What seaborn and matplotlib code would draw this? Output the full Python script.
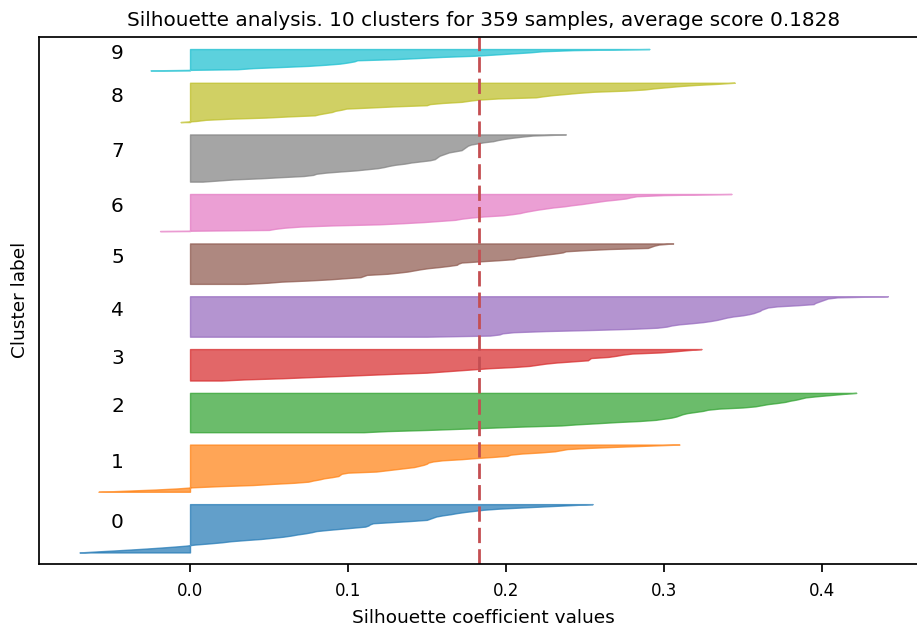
import numpy as np
import matplotlib
matplotlib.use("Agg")
import matplotlib.pyplot as plt
import seaborn as sns

# Silhouette coefficients per cluster (sorted from lowest to highest)
cluster_ids = [0, 1, 2, 3, 4, 5, 6, 7, 8, 9]

sil_c0 = [-0.070, -0.058, -0.045, -0.033, -0.022, -0.012, -0.003, 0.003, 0.012, 0.020,
          0.026, 0.035, 0.045, 0.052, 0.059, 0.064, 0.068, 0.073, 0.077, 0.080,
          0.087, 0.095, 0.103, 0.111, 0.113, 0.114, 0.116, 0.128, 0.140, 0.150,
          0.152, 0.154, 0.156, 0.160, 0.165, 0.169, 0.174, 0.180, 0.186, 0.196,
          0.210, 0.225, 0.240, 0.255]
sil_c1 = [-0.058, -0.040, -0.022, -0.008, 0.002, 0.019, 0.040, 0.052, 0.066, 0.075,
          0.078, 0.082, 0.085, 0.090, 0.094, 0.095, 0.096, 0.100, 0.118, 0.124,
          0.130, 0.136, 0.142, 0.145, 0.148, 0.150, 0.151, 0.154, 0.160, 0.172,
          0.181, 0.192, 0.201, 0.203, 0.210, 0.222, 0.231, 0.235, 0.239, 0.252,
          0.270, 0.290, 0.310]
sil_c2 = [0.110, 0.125, 0.150, 0.170, 0.190, 0.210, 0.235, 0.245, 0.258, 0.270,
          0.285, 0.295, 0.300, 0.305, 0.308, 0.310, 0.312, 0.315, 0.320, 0.325,
          0.328, 0.335, 0.350, 0.358, 0.362, 0.366, 0.372, 0.377, 0.380, 0.384,
          0.387, 0.390, 0.397, 0.405, 0.413, 0.422]
sil_c3 = [0.020, 0.035, 0.058, 0.076, 0.095, 0.112, 0.130, 0.150, 0.160, 0.170,
          0.180, 0.190, 0.205, 0.215, 0.220, 0.225, 0.232, 0.242, 0.252, 0.253,
          0.254, 0.265, 0.270, 0.274, 0.280, 0.298, 0.307, 0.315, 0.324]
sil_c4 = [0.150, 0.190, 0.196, 0.198, 0.205, 0.225, 0.255, 0.280, 0.296, 0.302,
          0.305, 0.310, 0.318, 0.325, 0.330, 0.334, 0.337, 0.340, 0.344, 0.350,
          0.354, 0.357, 0.359, 0.361, 0.362, 0.364, 0.366, 0.372, 0.385, 0.395,
          0.396, 0.398, 0.400, 0.402, 0.404, 0.410, 0.442]
sil_c5 = [0.035, 0.049, 0.058, 0.075, 0.088, 0.098, 0.108, 0.110, 0.112, 0.125,
          0.132, 0.138, 0.142, 0.146, 0.151, 0.158, 0.164, 0.169, 0.170, 0.172,
          0.183, 0.195, 0.205, 0.207, 0.214, 0.219, 0.225, 0.231, 0.236, 0.238,
          0.250, 0.265, 0.290, 0.292, 0.294, 0.297, 0.306]
sil_c6 = [-0.019, 0.050, 0.054, 0.060, 0.070, 0.090, 0.120, 0.135, 0.148, 0.158,
          0.168, 0.172, 0.178, 0.186, 0.198, 0.204, 0.209, 0.212, 0.216, 0.220,
          0.225, 0.230, 0.237, 0.242, 0.248, 0.253, 0.258, 0.263, 0.270, 0.276,
          0.279, 0.283, 0.300, 0.343]
sil_c7 = [0.008, 0.018, 0.028, 0.045, 0.058, 0.072, 0.078, 0.080, 0.086, 0.095,
          0.105, 0.112, 0.119, 0.123, 0.126, 0.130, 0.136, 0.140, 0.146, 0.152,
          0.155, 0.156, 0.157, 0.158, 0.160, 0.162, 0.164, 0.168, 0.172, 0.173,
          0.174, 0.175, 0.176, 0.178, 0.182, 0.186, 0.192, 0.195, 0.199, 0.204,
          0.210, 0.217, 0.238]
sil_c8 = [-0.006, 0.004, 0.010, 0.025, 0.048, 0.062, 0.079, 0.082, 0.086, 0.090,
          0.092, 0.096, 0.099, 0.115, 0.130, 0.150, 0.152, 0.160, 0.172, 0.177,
          0.183, 0.195, 0.219, 0.224, 0.230, 0.238, 0.246, 0.256, 0.276, 0.288,
          0.294, 0.302, 0.310, 0.320, 0.334, 0.345]
sil_c9 = [-0.025, 0.030, 0.040, 0.058, 0.075, 0.086, 0.095, 0.100, 0.104, 0.106,
          0.130, 0.145, 0.160, 0.180, 0.192, 0.203, 0.215, 0.223, 0.243, 0.291]

avg_score = 0.1828
n_samples = 359

clusters = [sil_c0, sil_c1, sil_c2, sil_c3, sil_c4,
            sil_c5, sil_c6, sil_c7, sil_c8, sil_c9]

sns.set_theme(style="ticks", context="notebook")
plt.rcParams.update({
    "text.color": "black",
    "axes.labelcolor": "black",
    "axes.edgecolor": "black",
    "xtick.color": "black",
    "ytick.color": "black",
})
palette = sns.color_palette("tab10", len(cluster_ids))

fig = plt.figure(figsize=(9.17, 6.28), dpi=100)
ax = fig.add_axes([0.0421, 0.1024, 0.9702, 0.8392])

gap = 10
y_lower = gap
for k, vals in zip(cluster_ids, clusters):
    v = np.sort(np.asarray(vals))
    size = len(v)
    y_upper = y_lower + size
    ax.fill_betweenx(np.arange(y_lower, y_upper), 0, v,
                     facecolor=palette[k], edgecolor=palette[k], alpha=0.7)
    ax.text(-0.05, y_lower + 0.5 * size, str(k), fontsize=14.5, color="black")
    y_lower = y_upper + gap

ax.axvline(x=avg_score, color="r", linestyle="--", linewidth=2, dashes=(5.5, 2.2))

ax.set_xlim(-0.0959, 0.4676)
ax.set_ylim(0, n_samples + (len(cluster_ids) + 1) * gap)
ax.set_yticks([])
ax.set_xticks([0.0, 0.1, 0.2, 0.3, 0.4])
ax.tick_params(axis="x", labelsize=12, pad=7)
ax.set_xlabel("Silhouette coefficient values", fontsize=13.3, labelpad=7)
ax.set_ylabel("Cluster label", fontsize=13.3, labelpad=7)
ax.set_title(f"Silhouette analysis. {len(cluster_ids)} clusters for {n_samples} samples, "
             f"average score {avg_score:.4f}", fontsize=14.4, pad=8)

fig.savefig("out.png", dpi=100)
